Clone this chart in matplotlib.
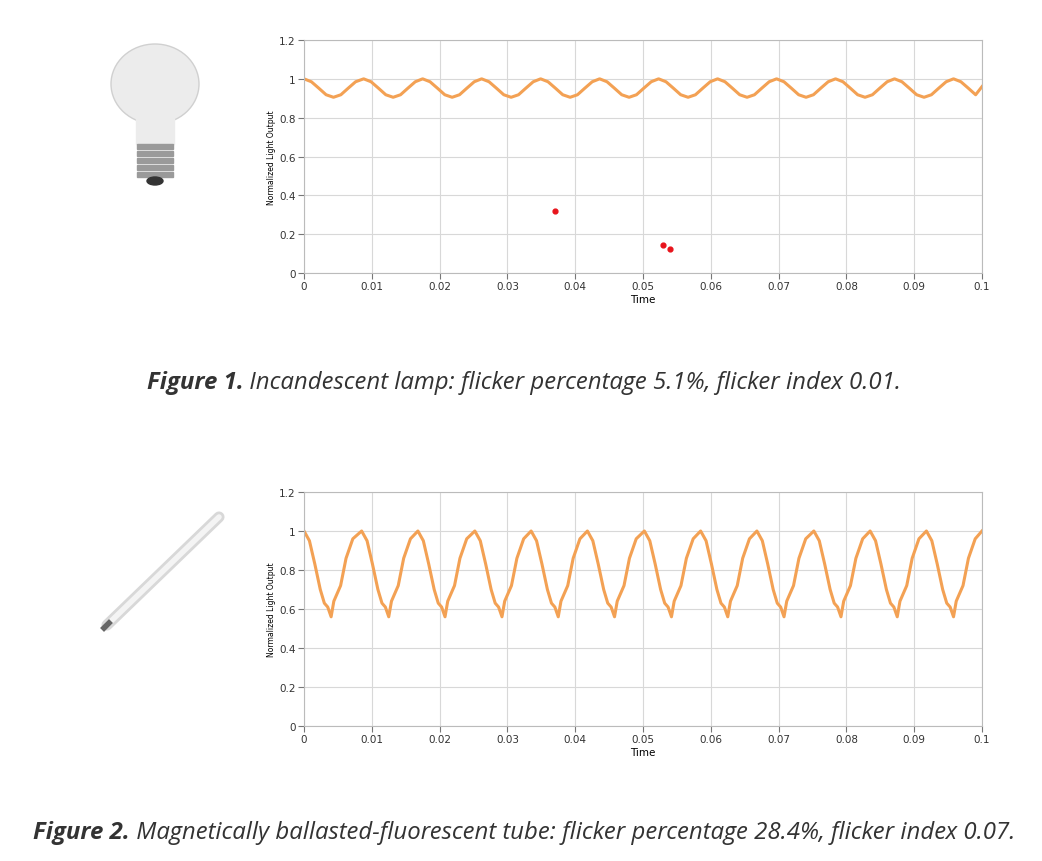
import matplotlib
matplotlib.use("Agg")
import matplotlib.pyplot as plt
from matplotlib.patches import Ellipse, Rectangle
import numpy as np

# ---- data ----
top_peak_times = [0.0, 0.0088, 0.0175, 0.0262, 0.0349, 0.0436, 0.0523, 0.0610, 0.0697, 0.0784, 0.0871, 0.0958]
top_period = 0.0087
top_profile_frac = [0.0, 0.125, 0.25, 0.375, 0.5, 0.625, 0.75, 0.875]
top_profile_val = [1.0, 0.985, 0.952, 0.918, 0.905, 0.918, 0.952, 0.985]
top_end = (0.1, 0.96)

bot_peak_times = [0.0, 0.0085, 0.0168, 0.0252, 0.0335, 0.0418, 0.0502, 0.0585, 0.0668, 0.0752, 0.0835, 0.0918]
bot_profile_dt = [0.0, 0.0008, 0.0016, 0.0024, 0.0030, 0.0035, 0.0040, 0.0044, 0.0049, 0.0054, 0.0062, 0.0072]
bot_profile_val = [1.0, 0.95, 0.83, 0.70, 0.63, 0.61, 0.56, 0.64, 0.68, 0.72, 0.86, 0.96]
bot_end = (0.1, 1.0)

red_x = [0.037, 0.053, 0.054]
red_y = [0.32, 0.145, 0.125]

xticks = [0, 0.01, 0.02, 0.03, 0.04, 0.05, 0.06, 0.07, 0.08, 0.09, 0.1]
xticklabels = ["0", "0.01", "0.02", "0.03", "0.04", "0.05", "0.06", "0.07", "0.08", "0.09", "0.1"]
yticks = [0, 0.2, 0.4, 0.6, 0.8, 1, 1.2]
yticklabels = ["0", "0.2", "0.4", "0.6", "0.8", "1", "1.2"]
captions = [("Figure 1.", " Incandescent lamp: flicker percentage 5.1%, flicker index 0.01."),
            ("Figure 2.", " Magnetically ballasted-fluorescent tube: flicker percentage 28.4%, flicker index 0.07.")]

W, H = 1042, 862
fig = plt.figure(figsize=(W/100, H/100), dpi=100)
ORANGE = "#f3a154"

def build(peaks, xs_off, vals, end):
    x, y = [], []
    for p in peaks:
        for o, v in zip(xs_off, vals):
            if p + o < end[0]:
                x.append(p + o); y.append(v)
    x.append(end[0]); y.append(end[1])
    return x, y

def style(ax):
    ax.set_xlim(0, 0.1); ax.set_ylim(0, 1.2)
    ax.set_xticks(xticks); ax.set_xticklabels(xticklabels, fontsize=7.5)
    ax.set_yticks(yticks); ax.set_yticklabels(yticklabels, fontsize=7.5)
    ax.grid(True, color="#d8d8d8", lw=0.8)
    for s in ax.spines.values():
        s.set_color("#bbbbbb")
    ax.tick_params(length=4, color="#777777", labelcolor="#333333", pad=2)
    ax.set_xlabel("Time", fontsize=7.5, labelpad=2)
    ax.set_ylabel("Normalized Light Output", fontsize=5.5, labelpad=2)

ax1 = fig.add_axes([304/W, 1-274/H, 678/W, 233/H])
style(ax1)
x, y = build(top_peak_times, [f*top_period for f in top_profile_frac], top_profile_val, top_end)
ax1.plot(x, y, color=ORANGE, lw=2.2)
ax1.scatter(red_x, red_y, color="#e8141c", s=12, zorder=5)

ax2 = fig.add_axes([304/W, 1-727/H, 678/W, 234/H])
style(ax2)
x, y = build(bot_peak_times, bot_profile_dt, bot_profile_val, bot_end)
ax2.plot(x, y, color=ORANGE, lw=2.2)

# bulb icon
bi = fig.add_axes([100/W, 1-190/H, 110/W, 150/H]); bi.axis("off")
bi.set_xlim(0, 110); bi.set_ylim(0, 150)
bi.add_patch(Ellipse((55, 105), 88, 80, color="#ececec", ec="#d0d0d0"))
bi.add_patch(Rectangle((36, 45), 38, 40, color="#ececec"))
for i in range(5):
    bi.add_patch(Rectangle((37, 12 + i*7), 36, 5, color="#9a9a9a"))
bi.add_patch(Ellipse((55, 8), 16, 8, color="#333333"))

# tube icon
ti = fig.add_axes([95/W, 1-640/H, 135/W, 135/H]); ti.axis("off")
ti.set_xlim(0, 135); ti.set_ylim(0, 135)
ti.plot([12, 124], [14, 122], color="#d8d8d8", lw=8, solid_capstyle="round")
ti.plot([12, 124], [14, 122], color="#f4f4f4", lw=4, solid_capstyle="round")
ti.plot([9, 14], [11, 16], color="#666666", lw=4)

fig.canvas.draw()
r = fig.canvas.get_renderer()
for (b, t), yy in zip(captions, [383, 833]):
    t1 = fig.text(0, 0, b, fontsize=17.3, fontweight="bold", style="italic",
                  family="Open Sans", color="#333333", va="center")
    t2 = fig.text(0, 0, t, fontsize=17.3, style="italic",
                  family="Open Sans", color="#333333", va="center")
    w1 = t1.get_window_extent(r).width; w2 = t2.get_window_extent(r).width
    x0 = 524 - (w1 + w2) / 2
    t1.set_position((x0/W, 1-yy/H)); t2.set_position(((x0+w1)/W, 1-yy/H))

fig.savefig("out.png", dpi=100)
